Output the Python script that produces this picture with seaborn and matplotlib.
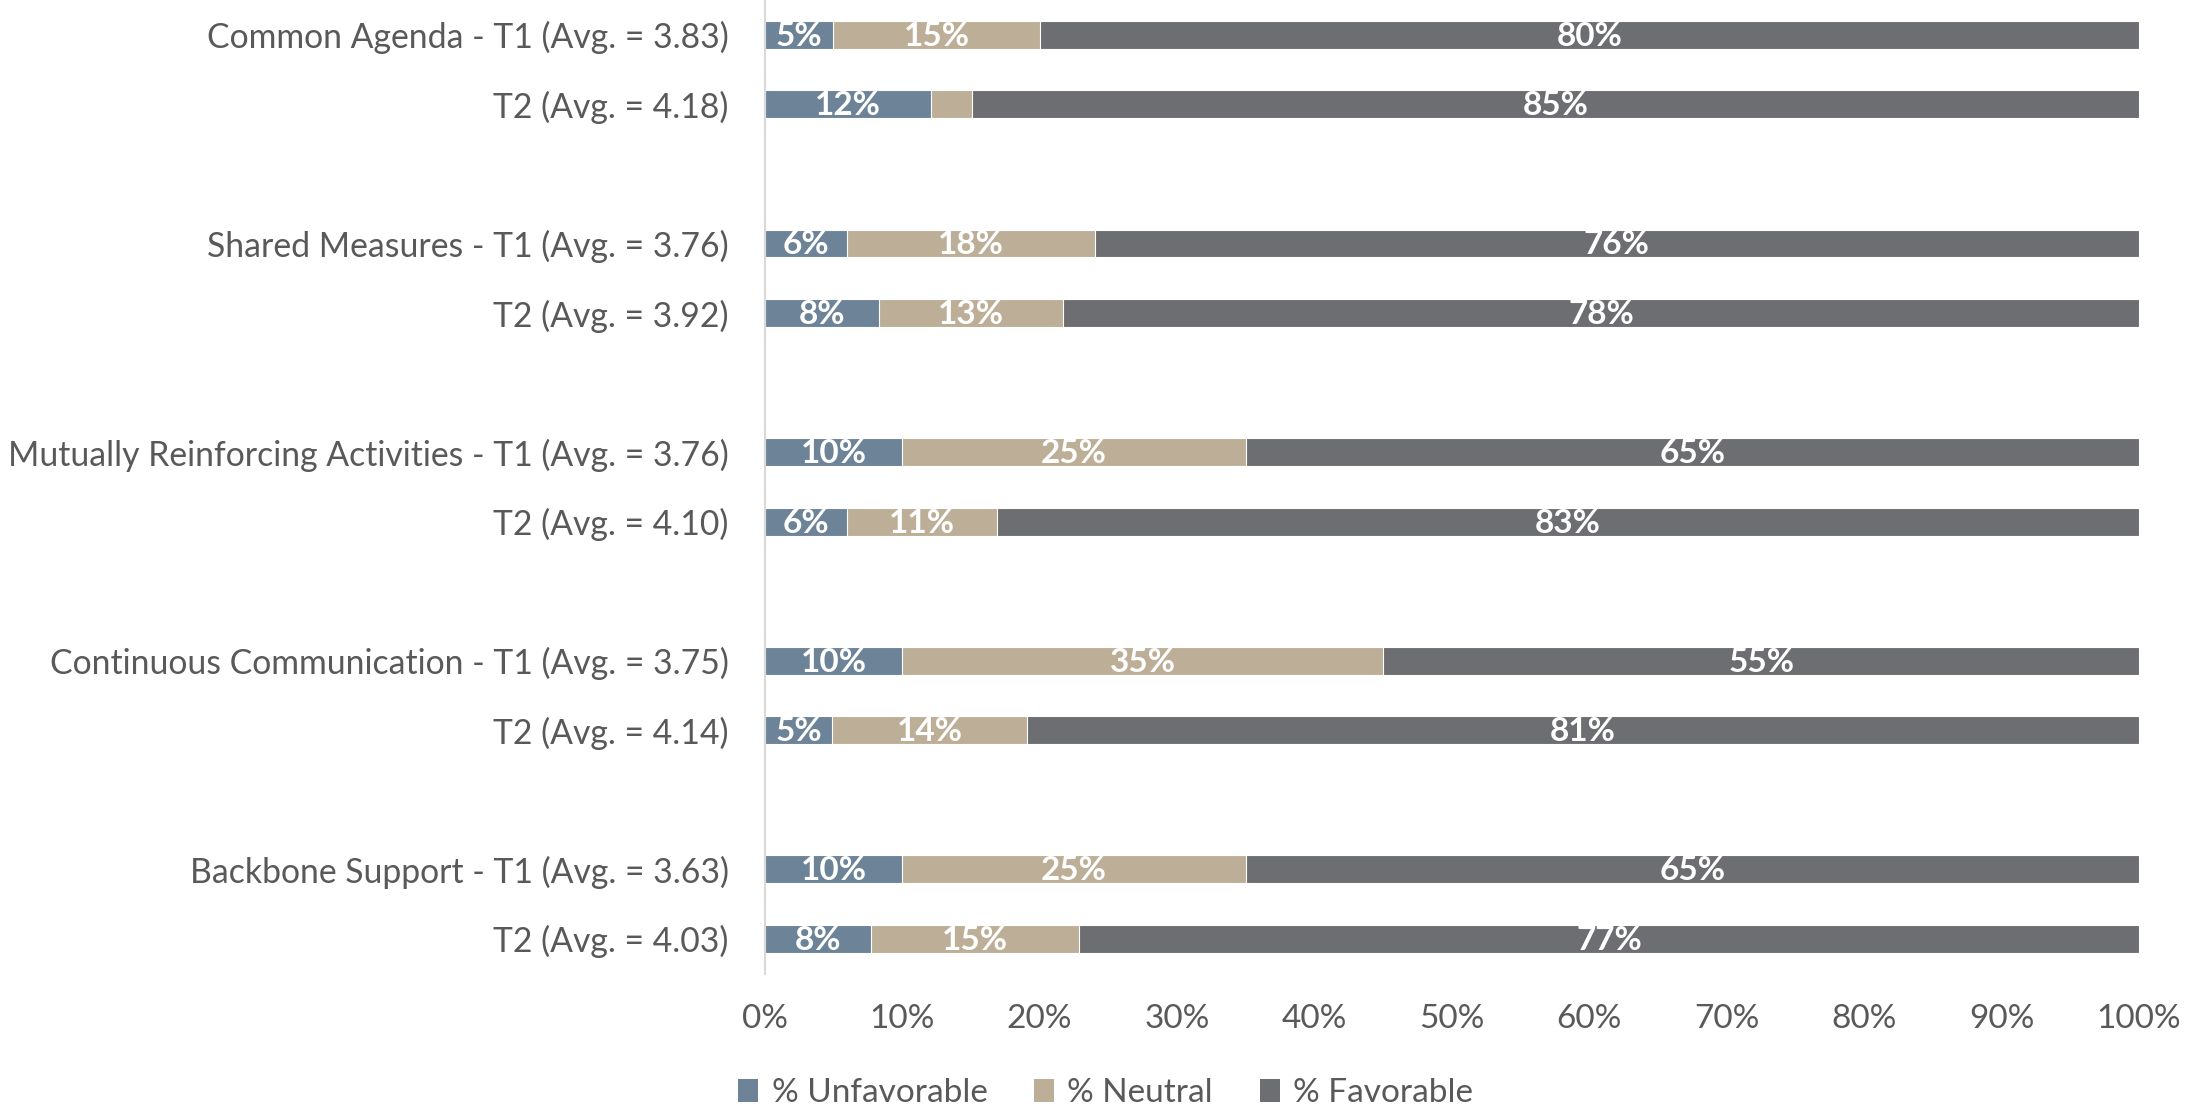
import pandas as pd
import numpy as np
import matplotlib.pyplot as plt
import seaborn as sns
from matplotlib.patches import Patch

sns.set_theme(style="white")
plt.rcParams['font.family'] = ['Lato', 'DejaVu Sans']

# data
groups = ["Common Agenda", "Shared Measures", "Mutually Reinforcing Activities",
          "Continuous Communication", "Backbone Support"]
avg_t1 = [3.83, 3.76, 3.76, 3.75, 3.63]
avg_t2 = [4.18, 3.92, 4.10, 4.14, 4.03]

unfav_t1 = [5, 6, 10, 10, 10]
neutral_t1 = [15, 18, 25, 35, 25]
fav_t1 = [80, 76, 65, 55, 65]

unfav_t2 = [12.1, 8.3, 6.0, 4.9, 7.7]
neutral_t2 = [3.0, 13.4, 10.9, 14.2, 15.2]
fav_t2 = [84.9, 78.3, 83.1, 80.9, 77.1]

series_names = ["% Unfavorable", "% Neutral", "% Favorable"]
colors = ["#6D8397", "#BDAF97", "#6D6E71"]
text_color = "#595959"

rows = []
order = []
for i, g in enumerate(groups):
    lab1 = f"{g} - T1 (Avg. = {avg_t1[i]:.2f})"
    lab2 = f"T2 (Avg. = {avg_t2[i]:.2f})"
    rows.append([lab1, unfav_t1[i], neutral_t1[i], fav_t1[i]])
    rows.append([lab2, unfav_t2[i], neutral_t2[i], fav_t2[i]])
    order += [lab1, lab2]
    if i < len(groups) - 1:
        order.append(" " * (i + 1))

df = pd.DataFrame(rows, columns=["row", "unfav", "neutral", "fav"])
df["c1"] = df["unfav"]
df["c2"] = df["unfav"] + df["neutral"]
df["c3"] = df["c2"] + df["fav"]

fig = plt.figure(figsize=(21.85, 11.09), dpi=100)
ax = fig.add_axes([0.350, 0.122, 0.629, 0.878])

# stacked look: draw cumulative totals from the back
for col, c in zip(["c3", "c2", "c1"], colors[::-1]):
    sns.barplot(data=df, x=col, y="row", order=order, color=c, width=0.4,
                orient="h", ax=ax, saturation=1, edgecolor="white", linewidth=0.8)

pos = {lab: k for k, lab in enumerate(order)}
for _, r in df.iterrows():
    y = pos[r["row"]]
    starts = [0, r["c1"], r["c2"]]
    vals = [r["unfav"], r["neutral"], r["fav"]]
    for s, v in zip(starts, vals):
        if v >= 4:
            ax.text(s + v / 2, y + 0.02, f"{round(v):.0f}%", ha="center", va="center",
                    color="white", fontsize=24, fontweight="bold")

ax.set_xlim(0, 100)
ax.set_ylim(len(order) - 0.5, -0.5)
ax.set_xticks(np.arange(0, 101, 10))
ax.set_xticklabels([f"{t}%" for t in range(0, 101, 10)])
ax.set_xlabel("")
ax.set_ylabel("")
ax.tick_params(axis="y", length=0, pad=26, labelsize=24.3, labelcolor=text_color)
ax.tick_params(axis="x", length=0, pad=22, labelsize=24, labelcolor=text_color)
for side in ["top", "right", "bottom"]:
    ax.spines[side].set_visible(False)
ax.spines["left"].set_color("#D9D9D9")
ax.spines["left"].set_linewidth(1.5)
ax.grid(False)

handles = [Patch(facecolor=c, edgecolor="none") for c in colors]
leg = fig.legend(handles, series_names, loc="center", bbox_to_anchor=(0.506, 0.014),
                 ncol=3, frameon=False, fontsize=24, handlelength=0.6, handleheight=0.7,
                 handletextpad=0.4, columnspacing=1.4)
for t in leg.get_texts():
    t.set_color(text_color)

fig.savefig("out.png", dpi=100)
